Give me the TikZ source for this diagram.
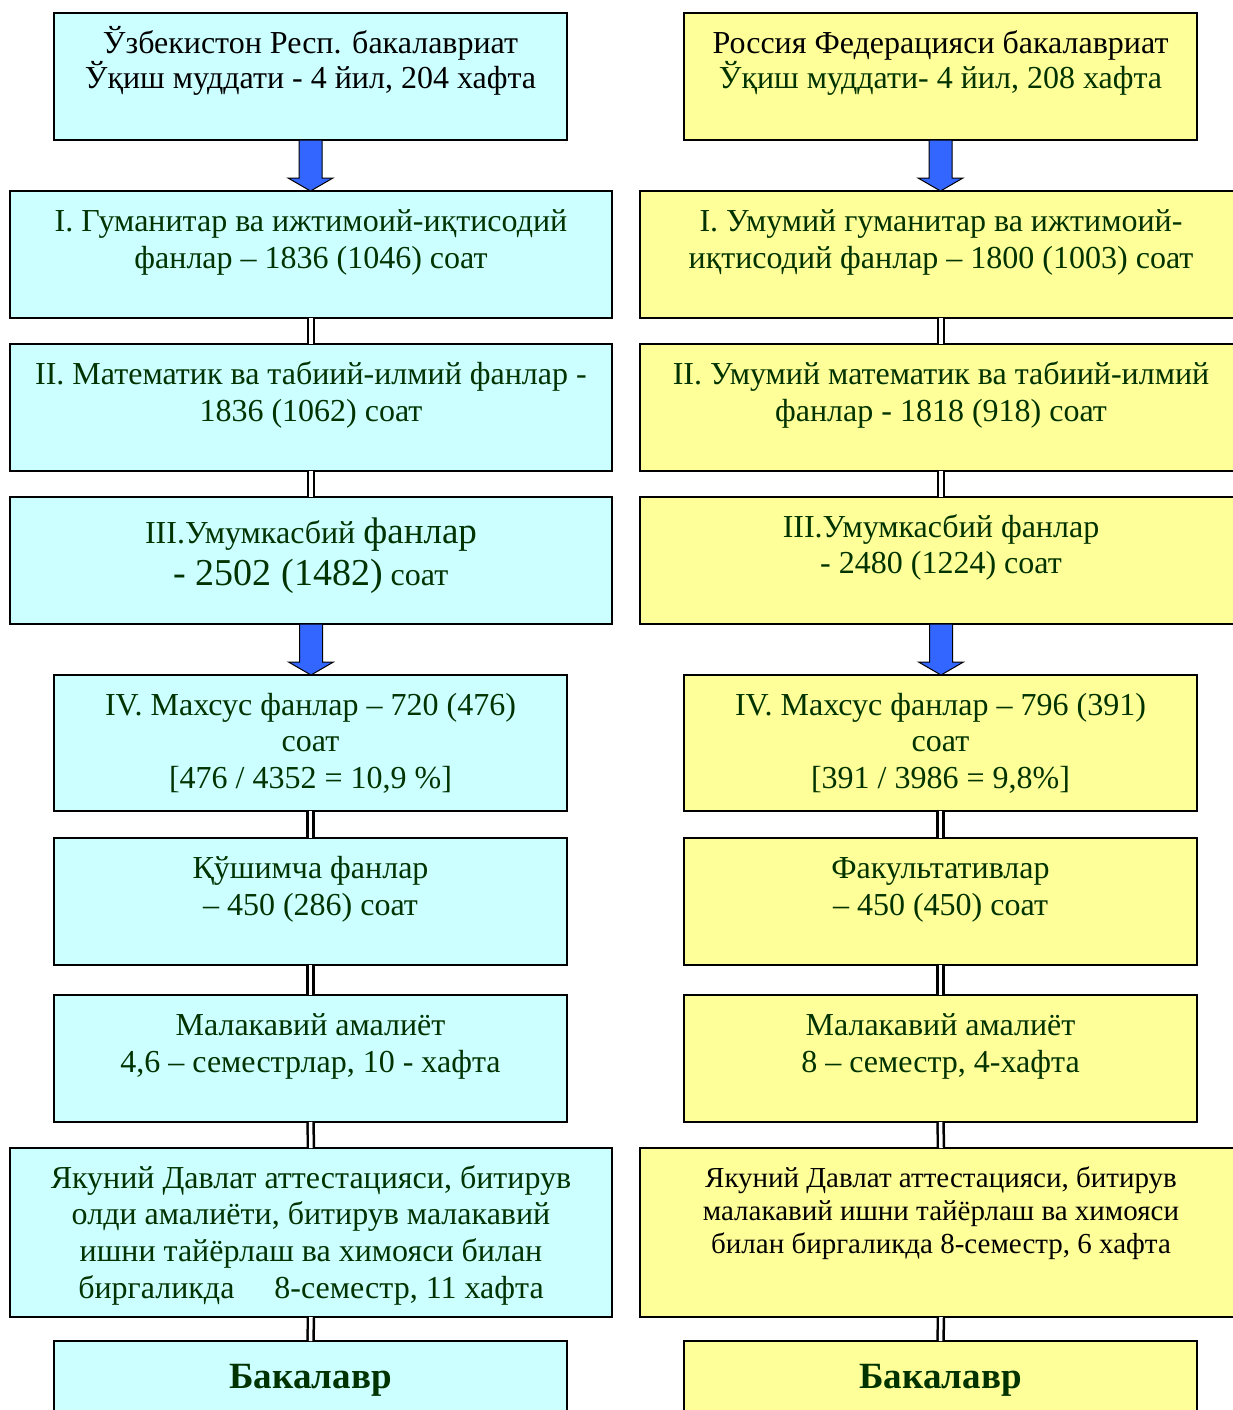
\documentclass[tikz,border=0pt]{standalone}
\usepackage{fontspec}
\setmainfont{Liberation Serif}
\usetikzlibrary{calc}
\definecolor{cyanbox}{HTML}{CCFFFF}
\definecolor{yelbox}{HTML}{FFFF99}
\definecolor{dgreen}{HTML}{003300}
\definecolor{arrblue}{HTML}{3366FF}
% box text: width, height, baselineskip, first-baseline offset, content
\newcommand{\bxt}[5]{\parbox[c][#2][t]{#1}{\centering\fontsize{32}{#3}\selectfont\rule{0pt}{#4}#5\par}}
\tikzset{
  box/.style={draw=black, line width=1.8pt, inner sep=0pt, outer sep=0pt, anchor=north west, text=dgreen},
  cbox/.style={box, fill=cyanbox},
  ybox/.style={box, fill=yelbox},
  link/.style={draw=black, line width=2.5pt, double=white, double distance=3.5pt},
  barrow/.style={draw=black, line width=1pt, fill=arrblue, line join=miter}
}
\begin{document}
\begin{tikzpicture}[x=1pt,y=-1pt]
\useasboundingbox[fill=white] (0,0) rectangle (1232,1410);
% ---------------- left column ----------------
\node[cbox] (L0) at (54,13) {\bxt{513pt}{127pt}{35pt}{41pt}{\color{black}Ўзбекистон Респ. бакалавриат\\Ўқиш муддати - 4 йил, 204 хафта}};
\node[cbox] (L1) at (10,191) {\bxt{602pt}{127pt}{37pt}{40pt}{I. Гуманитар ва ижтимоий-иқтисодий\\фанлар – 1836 (1046) соат}};
\node[cbox] (L2) at (10,344) {\bxt{602pt}{127pt}{37pt}{40pt}{II. Математик ва табиий-илмий фанлар -\\1836 (1062) соат}};
\node[cbox] (L3) at (10,497) {\bxt{602pt}{127pt}{42pt}{46pt}{III.Умумкасбий {\fontsize{37}{42}\selectfont фанлар}\\{\fontsize{38}{42}\selectfont - 2502 (1482)} соат}};
\node[cbox] (L4) at (54,675) {\bxt{513pt}{136pt}{36.5pt}{40pt}{IV. Махсус фанлар – 720 (476)\\соат\\{[}476 / 4352 = 10,9 \%{]}}};
\node[cbox] (L5) at (54,838) {\bxt{513pt}{127pt}{37pt}{40pt}{Қўшимча фанлар\\– 450 (286) соат}};
\node[cbox] (L6) at (54,995) {\bxt{513pt}{127pt}{37pt}{40pt}{Малакавий амалиёт\\4,6 – семестрлар, 10 - хафта}};
\node[cbox] (L7) at (10,1148) {\bxt{602pt}{169pt}{36.7pt}{40pt}{Якуний Давлат аттестацияси, битирув\\олди амалиёти, битирув малакавий\\ишни тайёрлаш ва химояси билан\\биргаликда\hspace{40pt}8-семестр, 11 хафта}};
\node[cbox] (L8) at (54,1341) {\bxt{513pt}{127pt}{37pt}{47pt}{\fontsize{37}{42}\selectfont\bfseries Бакалавр}};
% ---------------- right column ----------------
\node[ybox] (R0) at (684,13) {\bxt{513pt}{127pt}{35pt}{41pt}{{\color{black}Россия Федерацияси бакалавриат}\\Ўқиш муддати- 4 йил, 208 хафта}};
\node[ybox] (R1) at (640,191) {\bxt{602pt}{127pt}{37pt}{40pt}{I. Умумий гуманитар ва ижтимоий-\\иқтисодий фанлар – 1800 (1003) соат}};
\node[ybox] (R2) at (640,344) {\bxt{602pt}{127pt}{37pt}{40pt}{II. Умумий математик ва табиий-илмий\\фанлар - 1818 (918) соат}};
\node[ybox] (R3) at (640,497) {\bxt{602pt}{127pt}{36pt}{40pt}{III.Умумкасбий фанлар\\- 2480 (1224) соат}};
\node[ybox] (R4) at (684,675) {\bxt{513pt}{136pt}{36.5pt}{40pt}{IV. Махсус фанлар – 796 (391)\\соат\\{[}391 / 3986 = 9,8\%{]}}};
\node[ybox] (R5) at (684,838) {\bxt{513pt}{127pt}{37pt}{40pt}{Факультативлар\\– 450 (450) соат}};
\node[ybox] (R6) at (684,995) {\bxt{513pt}{127pt}{37pt}{40pt}{Малакавий амалиёт\\8 – семестр, 4-хафта}};
\node[ybox] (R7) at (640,1148) {\bxt{602pt}{169pt}{33pt}{39pt}{\color{black}\fontsize{29}{33}\selectfont Якуний Давлат аттестацияси, битирув\\малакавий ишни тайёрлаш ва химояси\\билан биргаликда 8-семестр, 6 хафта}};
\node[ybox] (R8) at (684,1341) {\bxt{513pt}{127pt}{37pt}{47pt}{\fontsize{37}{42}\selectfont\bfseries Бакалавр}};
% ---------------- double links ----------------
\foreach \a/\b in {L1/L2,L2/L3,L4/L5,L5/L6,L6/L7,L7/L8,R1/R2,R2/R3,R4/R5,R5/R6,R6/R7,R7/R8}{
  \draw[link] (\a.south) -- (\b.north);
}
% ---------------- blue arrows ----------------
\foreach \a/\b in {L0/L1,L3/L4,R0/R1,R3/R4}{
  \draw[barrow] let \p1=(\a.south), \p2=(\b.north) in
    (\x1-11.5pt,\y1) -- (\x1-11.5pt,\y2+13pt) -- (\x1-22.5pt,\y2+13pt) -- (\x1,\y2)
    -- (\x1+22.5pt,\y2+13pt) -- (\x1+11.5pt,\y2+13pt) -- (\x1+11.5pt,\y1) -- cycle;
}
\end{tikzpicture}
\end{document}
